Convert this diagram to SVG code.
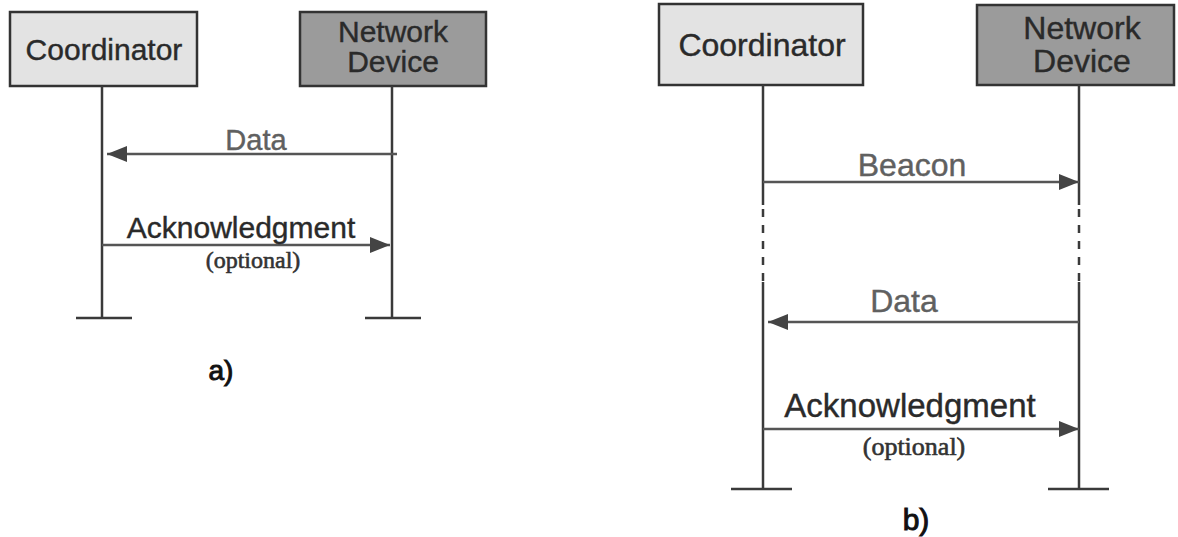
<svg xmlns="http://www.w3.org/2000/svg" width="1178" height="537" viewBox="0 0 1178 537">
<style>
.box{stroke:#333;stroke-width:2.5}
.coord{fill:#e3e3e3}
.dev{fill:#9b9b9b}
.life{stroke:#3a3a3a;stroke-width:2.5;fill:none}
.dash{stroke:#3a3a3a;stroke-width:2.5;fill:none;stroke-dasharray:8 8}
.msg{stroke:#555;stroke-width:2.5;fill:none}
.t{font-family:"Liberation Sans",Arial,sans-serif;text-anchor:middle;fill:#2a2a2a;stroke:#2a2a2a;stroke-width:0.4}
.g{fill:#606060;stroke:#606060}
.s{font-family:"Liberation Serif","Times New Roman",serif;text-anchor:middle;fill:#333;stroke:#333;stroke-width:0.6}
.lbl{font-family:"Liberation Sans",Arial,sans-serif;text-anchor:middle;fill:#111;stroke:#111;stroke-width:1}
</style>
<defs>
<marker id="ah" markerUnits="userSpaceOnUse" markerWidth="20" markerHeight="16" refX="20" refY="8" orient="auto">
<path d="M0,0 L20,8 L0,16 Z" fill="#444"/>
</marker>
</defs>

<g id="a-coordinator">
<rect class="box coord" x="10" y="12" width="187" height="74"/>
<text class="t" x="104" y="60" font-size="30">Coordinator</text>
</g>
<g id="a-device">
<rect class="box dev" x="300" y="12" width="186" height="74"/>
<text class="t" x="393" y="42" font-size="30">Network</text>
<text class="t" x="393" y="72" font-size="30">Device</text>
</g>
<g id="b-coordinator">
<rect class="box coord" x="659" y="4" width="204" height="81"/>
<text class="t" x="762" y="56" font-size="32">Coordinator</text>
</g>
<g id="b-device">
<rect class="box dev" x="977" y="5" width="197" height="80"/>
<text class="t" x="1082" y="39" font-size="32">Network</text>
<text class="t" x="1082" y="72" font-size="32">Device</text>
</g>

<g id="connectors">
<line class="life" x1="102" y1="86" x2="102" y2="318"/>
<line class="life" x1="76" y1="318" x2="132" y2="318"/>
<line class="life" x1="392" y1="86" x2="392" y2="318"/>
<line class="life" x1="365" y1="318" x2="421" y2="318"/>
<line class="msg" x1="397" y1="154" x2="107" y2="154" marker-end="url(#ah)"/>
<line class="msg" x1="102" y1="245" x2="390" y2="245" marker-end="url(#ah)"/>
<line class="life" x1="763" y1="85" x2="763" y2="205"/>
<line class="dash" x1="763" y1="209" x2="763" y2="282"/>
<line class="life" x1="763" y1="282" x2="763" y2="489"/>
<line class="life" x1="731" y1="489" x2="792" y2="489"/>
<line class="life" x1="1079" y1="85" x2="1079" y2="205"/>
<line class="dash" x1="1079" y1="209" x2="1079" y2="282"/>
<line class="life" x1="1079" y1="282" x2="1079" y2="489"/>
<line class="life" x1="1048" y1="489" x2="1109" y2="489"/>
<line class="msg" x1="763" y1="182" x2="1079" y2="182" marker-end="url(#ah)"/>
<line class="msg" x1="1079" y1="322" x2="768" y2="322" marker-end="url(#ah)"/>
<line class="msg" x1="763" y1="429" x2="1079" y2="429" marker-end="url(#ah)"/>
</g>

<g id="labels">
<text class="t g" x="256" y="150" font-size="29">Data</text>
<text class="t" x="241" y="238" font-size="30">Acknowledgment</text>
<text class="s" x="253" y="268" font-size="24">(optional)</text>
<text class="lbl" x="221" y="380" font-size="28">a)</text>
<text class="t g" x="912" y="176" font-size="32">Beacon</text>
<text class="t g" x="904" y="312" font-size="32">Data</text>
<text class="t" x="910" y="417" font-size="33">Acknowledgment</text>
<text class="s" x="914" y="455" font-size="26">(optional)</text>
<text class="lbl" x="916" y="530" font-size="30">b)</text>
</g>
</svg>
